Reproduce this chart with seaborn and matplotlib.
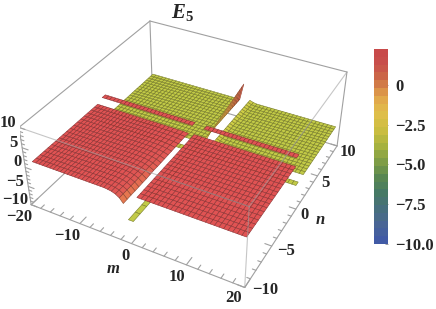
import numpy as np
import matplotlib
matplotlib.use('Agg')
import matplotlib.pyplot as plt
import seaborn as sns

# surface grids
m_front_left = [-18.5, -17.81, -17.12, -16.42, -15.73, -15.04, -14.35, -13.66, -12.96, -12.27, -11.58, -10.89, -10.2,
                -9.5, -8.81, -8.12, -7.43, -6.74, -6.04, -5.35, -4.66, -3.97, -3.28, -2.58, -1.89, -1.2]
m_front_right = [1.1, 1.84, 2.58, 3.32, 4.06, 4.8, 5.54, 6.28, 7.02, 7.76, 8.5, 9.24, 9.98, 10.72, 11.46, 12.2,
                 12.94, 13.68, 14.42, 15.16, 15.9, 16.64, 17.38, 18.12, 18.86, 19.6]
m_back_left = [-19.0, -18.23, -17.46, -16.68, -15.91, -15.14, -14.37, -13.6, -12.82, -12.05, -11.28, -10.51, -9.74,
               -8.96, -8.19, -7.42, -6.65, -5.88, -5.1, -4.33, -3.56, -2.79, -2.02, -1.24, -0.47, 0.3, 1.0]
m_back_right = [2.4, 3.15, 3.9, 4.64, 5.39, 6.14, 6.89, 7.63, 8.38, 9.13, 9.88, 10.63, 11.37, 12.12, 12.87, 13.62,
                14.37, 15.11, 15.86, 16.61, 17.36, 18.11, 18.85, 19.6]
n_front_left = [-9.9, -9.38, -8.86, -8.33, -7.81, -7.29, -6.77, -6.24, -5.72, -5.2, -4.68, -4.16, -3.63, -3.11, -2.59,
                -2.07, -1.54, -1.02, -0.5]
n_front_right = [-9.7, -9.19, -8.68, -8.17, -7.66, -7.14, -6.63, -6.12, -5.61, -5.1, -4.59, -4.08, -3.57, -3.06,
                 -2.54, -2.03, -1.52, -1.01, -0.5]
n_back = [1.6, 2.03, 2.47, 2.9, 3.33, 3.77, 4.2, 4.63, 5.07, 5.5, 5.93, 6.37, 6.8, 7.23, 7.67, 8.1, 8.53, 8.97, 9.4]
n_red_strip = [0.6, 1.1]
n_green_strip = [0.0, 0.5]
m_green_strip = [-0.3, 0.6]
n_long = [-10.0, -9.0, -8.0, -7.0, -6.0, -5.0, -4.0, -3.0, -2.0, -1.0, 0.0, 1.0, 2.0]

red_level = 2.0
green_level = -3.8
# the left red sheet bends down at its inner edge: depth by column, strength by row
dip_m = [0, 0, 0, 0, 0, 0, 0, 0, 0, 0, 0, 0, 0, 0, 0, 0, 0, 0, 0, 0, 0, -0.1, -0.25, -0.6, -1.2, -2.3]
dip_n = [1.0, 0.95, 0.9, 0.85, 0.8, 0.75, 0.7, 0.62, 0.55, 0.5, 0.45, 0.4, 0.33, 0.28, 0.22, 0.17, 0.12, 0.08, 0.05]
# and its inner edge leans towards m = 0 on the way back
edge_m = [0, 0, 0, 0, 0, 0, 0, 0, 0, 0, 0, 0, 0, 0, 0, 0, 0, 0, 0, 0, 0.1, 0.2, 0.35, 0.55, 0.75, 1.0]
edge_n = [0.0, 0.06, 0.12, 0.2, 0.26, 0.32, 0.4, 0.46, 0.52, 0.6, 0.66, 0.72, 0.8, 0.86, 0.92, 1.0, 1.05, 1.1, 1.2]
# wall closing the back left sheet, by n
wall_n = [-3.6, -3.0, -2.6, -2.3, -2.1, -1.9, -1.7, -1.5, -1.3, -1.1, -0.9, -0.7, -0.5, -0.3, -0.1, 0.1, 0.3, 0.5, 0.7]
# slight lift on the inner edge of the back right sheet
lift_m = [0.5, 0.15] + [0] * 22

cbar_levels = [2.0, 1.5, 1.0, 0.5, 0.0, -0.5, -1.0, -1.5, -2.0, -2.5, -3.0, -3.5, -4.0, -4.5, -5.0, -5.5, -6.0,
               -6.5, -7.0, -7.5, -8.0, -8.5, -9.0, -9.5, -10.0]
cbar_ticks = [0, -2.5, -5.0, -7.5, -10.0]
cbar_labels = ['0', '\u22122.5', '\u22125.0', '\u22127.5', '\u221210.0']
ramp = ['#415aa5', '#4a6694', '#47707c', '#467a63', '#5a8750', '#82a046', '#abb43e', '#cebe40', '#e1be4b',
        '#e1a54b', '#cd6e46', '#c8504b', '#c8484a']

m_labels = ['\u221220', '\u221210', '0', '10', '20']
n_labels = ['\u221210', '\u22125', '0', '5', '10']
z_labels = ['10', '5', '0', '\u22125', '\u221210']
m_ticks = [-20, -18, -16, -14, -12, -10, -8, -6, -4, -2, 0, 2, 4, 6, 8, 10, 12, 14, 16, 18, 20]
n_ticks = [-10, -9, -8, -7, -6, -5, -4, -3, -2, -1, 0, 1, 2, 3, 4, 5, 6, 7, 8, 9, 10]
z_ticks = [-10, -9, -8, -7, -6, -5, -4, -3, -2, -1, 0, 1, 2, 3, 4, 5, 6, 7, 8, 9, 10]

sns.set_style('white')
plt.rcParams['font.family'] = ['Liberation Serif', 'DejaVu Serif']
plt.rcParams['font.weight'] = 'bold'
plt.rcParams['mathtext.fontset'] = 'custom'
plt.rcParams['mathtext.bfit'] = 'Liberation Serif:italic:bold'
plt.rcParams['mathtext.bf'] = 'Liberation Serif:bold'

W, H = 436, 309
fig = plt.figure(figsize=(W / 100, H / 100), dpi=100)
ax = fig.add_subplot(projection='3d', computed_zorder=False)
ax.set_xlim(-20, 20)
ax.set_ylim(-10, 10)
ax.set_zlim(-10, 10)
ax.set_axis_off()
ax.view_init(36.128, -61.6411, 0.077)
ax.set_proj_type('persp', focal_length=0.4408)
ax.set_box_aspect((1, 1.0104, 0.4024))

# place the axes so the box lands where it is in the picture
scale = 1800.88
x0, y0, x1, y1 = ax.viewLim.extents
ax.set_position([(191.32 + scale * x0) / W, (171.6 + scale * y0) / H, scale * (x1 - x0) / W, scale * (y1 - y0) / H])

cmap = sns.blend_palette(ramp, as_cmap=True)
norm = plt.Normalize(-10, 2.25)


def sheet(ms, ns, zs, order, pick=np.mean):
    mm, nn = np.meshgrid(ms, ns)
    if np.ndim(ms) == 2:
        mm, nn = ms, np.tile(np.array(ns)[:, None], (1, ms.shape[1]))
    zz = np.asarray(zs, dtype=float) * np.ones(mm.shape)
    # each cell takes its colour from its four corners
    corners = np.stack([zz[:-1, :-1], zz[1:, :-1], zz[:-1, 1:], zz[1:, 1:]])
    zc = zz.copy()
    zc[:-1, :-1] = pick(corners, axis=0)
    colors = cmap(norm(zc))
    colors[..., :3] = np.clip(colors[..., :3] * 1.12, 0, 1)
    surf = ax.plot_surface(mm, nn, zz, facecolors=colors, rstride=1, cstride=1, shade=False, zorder=order)
    # mesh lines are a darker shade of the cell
    lines = colors[:-1, :-1].reshape(-1, 4).copy()
    lines[:, :3] *= 0.62
    surf.set_edgecolor(lines)
    surf.set_linewidth(0.4)
    return surf


def box_line(a, b, order, alpha=1.0):
    ax.plot([a[0], b[0]], [a[1], b[1]], [a[2], b[2]], color='#a0a0a0', lw=0.8, alpha=alpha, zorder=order)


# back of the box
box_line((-20, 10, 10), (20, 10, 10), 1)
box_line((-20, 10, 10), (-20, 10, -10), 1)
box_line((20, 10, 10), (20, 10, -10), 1)
box_line((-20, 10, -10), (20, 10, -10), 1)
box_line((-20, 10, -10), (-20, -10, -10), 1)
box_line((20, 10, -10), (20, -10, -10), 1)
box_line((-20, -10, -10), (20, -10, -10), 1)
box_line((-20, 10, 10), (-20, -10, 10), 1)

# sheets, back to front
z_back_left = np.full((len(n_back), len(m_back_left)), green_level)
z_back_left[:, -1] = wall_n
sheet(m_back_left, n_back, z_back_left, 2, pick=np.max)
sheet(m_back_right, n_back, green_level + np.outer(np.ones(len(n_back)), lift_m), 3)
sheet(m_green_strip, n_long, green_level, 4)
sheet(m_front_left, n_green_strip, green_level, 4)
sheet(m_front_right, n_green_strip, green_level, 4)
sheet(m_back_left[:25], n_red_strip, red_level, 5)
sheet(m_front_right[1:-1], n_red_strip, red_level, 6)
grid_left = np.array(m_front_left) + np.outer(edge_n, edge_m)
sheet(grid_left, n_front_left, red_level + np.outer(dip_n, dip_m), 7)
sheet(m_front_right, n_front_right, red_level, 8)

# front of the box drawn over the sheets
box_line((-20, -10, 10), (20, -10, 10), 9, 0.6)
box_line((20, 10, 10), (20, -10, 10), 9, 0.6)
box_line((-20, -10, 10), (-20, -10, -10), 9)
box_line((20, -10, 10), (20, -10, -10), 9, 0.6)

# tick marks
for v in m_ticks:
    box_line((v, -10, -10), (v, -9.5 if v % 10 else -9.1, -10), 9)
for v in n_ticks:
    box_line((20, v, -10), (19.4 if v % 5 else 18.8, v, -10), 9)
for v in z_ticks:
    box_line((-20, -10, v), (-19.4 if v % 5 else -18.8, -10, v), 9)


def px_text(x, y, s, size=12, **kw):
    fig.text(x / W, 1 - y / H, s, ha='center', va='center', fontsize=size, weight='bold', **kw)


for (x, y), s_ in zip([(19, 217), (67, 236), (125, 256), (177, 277), (234, 298)], m_labels):
    px_text(x, y, s_)
for (x, y), s_ in zip([(265, 290), (286, 251), (304, 215), (325, 183), (348, 152)], n_labels):
    px_text(x, y, s_)
for (x, y), s_ in zip([(8, 123), (13, 143), (17, 162), (15, 182), (15, 200)], z_labels):
    px_text(x, y, s_)
px_text(113, 269, 'm', style='italic')
px_text(320, 220, 'n', style='italic')
px_text(183, 13, r'$\mathbfit{E}_{\mathbf{5}}$', size=15)

# colour bar
cax = fig.add_axes([374 / W, 1 - 244 / H, 14 / W, 195 / H])
sns.heatmap(np.array(cbar_levels)[:, None], cmap=cmap, vmin=-10, vmax=2.25, cbar=False, ax=cax,
            xticklabels=False, yticklabels=False)
band = 12.25 / len(cbar_levels)
cax.yaxis.tick_right()
cax.set_yticks([(2.25 - v) / band for v in cbar_ticks], cbar_labels, rotation=0, fontsize=12, weight='bold')
cax.tick_params(axis='y', length=2, width=0.5, color='#777777', pad=5, direction='in')

fig.savefig('out.png', dpi=100)
